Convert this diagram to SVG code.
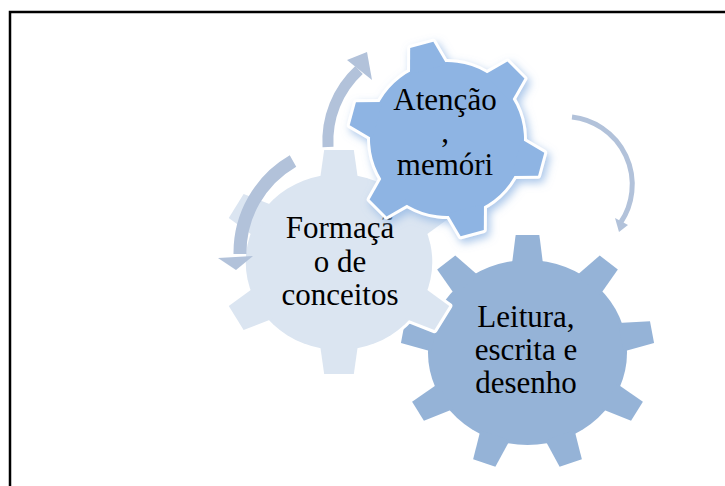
<svg xmlns="http://www.w3.org/2000/svg" width="725" height="486" viewBox="0 0 725 486">
<style>
.t{font-family:"Liberation Serif","Times New Roman",serif;font-size:31px;fill:#000;text-anchor:middle}
.arrow{fill:none;stroke:#b2c2da}
.head{fill:#b2c2da}
.out{fill:#fff;stroke:#fff;stroke-width:6;stroke-linejoin:round}
</style>
<defs>
<polygon id="toothR" points="-14.5,-88 -11,-117.5 11,-117.5 14.5,-88"/>
<g id="gearR"><circle r="92.5"/>
<use href="#toothR"/><use href="#toothR" transform="rotate(40)"/><use href="#toothR" transform="rotate(80)"/>
<use href="#toothR" transform="rotate(120)"/><use href="#toothR" transform="rotate(160)"/><use href="#toothR" transform="rotate(200)"/>
<use href="#toothR" transform="rotate(240)"/><use href="#toothR" transform="rotate(280)"/><use href="#toothR" transform="rotate(320)"/>
</g>
<polygon id="toothL" points="-18,-82 -14,-112 14,-112 18,-82"/>
<g id="gearL"><circle r="88"/>
<use href="#toothL"/><use href="#toothL" transform="rotate(60)"/><use href="#toothL" transform="rotate(120)"/>
<use href="#toothL" transform="rotate(180)"/><use href="#toothL" transform="rotate(240)"/><use href="#toothL" transform="rotate(300)"/>
</g>
<polygon id="toothB" points="-19,-72 -12,-97.5 12,-97.5 19,-72"/>
<g id="gearB"><circle r="77"/>
<use href="#toothB"/><use href="#toothB" transform="rotate(60)"/><use href="#toothB" transform="rotate(120)"/>
<use href="#toothB" transform="rotate(180)"/><use href="#toothB" transform="rotate(240)"/><use href="#toothB" transform="rotate(300)"/>
</g>
<filter id="glow" x="-30%" y="-30%" width="160%" height="160%">
<feGaussianBlur in="SourceAlpha" stdDeviation="4"/>
<feOffset dx="3" dy="4" result="b"/>
<feFlood flood-color="#8eb4e3" flood-opacity="0.75"/>
<feComposite in2="b" operator="in"/>
<feMerge><feMergeNode/><feMergeNode in="SourceGraphic"/></feMerge>
</filter>
</defs>
<rect width="725" height="486" fill="#fff"/>
<path d="M10,486 V12 H725" fill="none" stroke="#000" stroke-width="2.5"/>

<g id="node-leitura">
<use href="#gearR" transform="translate(527.5,352.5) scale(1.076,1)" fill="#95b3d7"/>
<text class="t" x="526" y="327">Leitura,</text>
<text class="t" x="526" y="360">escrita e</text>
<text class="t" x="526" y="393">desenho</text>
</g>

<g id="node-formacao">
<use href="#gearL" class="out" transform="translate(339,262) scale(1.06,1)"/>
<use href="#gearL" transform="translate(339,262) scale(1.06,1)" fill="#dbe5f1"/>
<text class="t" x="340" y="238">Formaçã</text>
<text class="t" x="340" y="272">o de</text>
<text class="t" x="340" y="305">conceitos</text>
</g>

<g id="node-atencao">
<g filter="url(#glow)">
<use href="#gearB" class="out" transform="translate(447,139) rotate(-15)"/>
<use href="#gearB" transform="translate(447,139) rotate(-15)" fill="#8eb4e3"/>
</g>
<text class="t" x="445" y="110">Atenção</text>
<text class="t" x="445" y="142">,</text>
<text class="t" x="445" y="175">memóri</text>
</g>

<g id="connectors">
<path class="arrow" stroke-width="11" d="M328,147 A97,97 0 0 1 359,70"/>
<polygon class="head" points="347,60 367,52 372,80"/>
<path class="arrow" stroke-width="13" d="M293,161 A106,106 0 0 0 240,254"/>
<polygon class="head" points="218,258 253,256 236,270"/>
<path class="arrow" stroke-width="5" d="M572,117 A68,68 0 0 1 621,222"/>
<polygon class="head" points="615,218 628,225 619,232"/>
</g>
</svg>
